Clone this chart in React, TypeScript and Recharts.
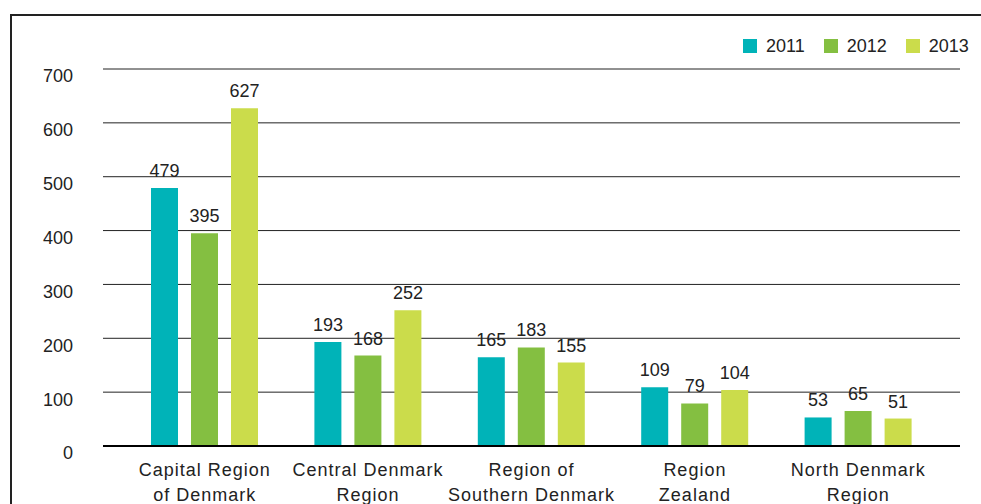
import React from "react";
import { BarChart, Bar, XAxis, YAxis, CartesianGrid, Legend, LabelList } from "recharts";

const categories = [
  "Capital Region\nof Denmark",
  "Central Denmark\nRegion",
  "Region of\nSouthern Denmark",
  "Region\nZealand",
  "North Denmark\nRegion",
];
const values2011 = [479, 193, 165, 109, 53];
const values2012 = [395, 168, 183, 79, 65];
const values2013 = [627, 252, 155, 104, 51];
const seriesNames = ["2011", "2012", "2013"];
const seriesColors = ["#00B3B8", "#84BF41", "#CBDC4B"];
const yTicks = [0, 100, 200, 300, 400, 500, 600, 700];

const data = categories.map((c, i) => ({
  name: c,
  s2011: values2011[i],
  s2012: values2012[i],
  s2013: values2013[i],
}));
const keys = ["s2011", "s2012", "s2013"];

const FONT = "'Liberation Sans', Arial, sans-serif";

const CategoryTick = (props: any) => {
  const { x, y, payload } = props;
  const lines = String(payload.value).split("\n");
  return (
    <text
      x={x}
      y={y}
      textAnchor="middle"
      fill="#222"
      fontSize={18}
      fontFamily={FONT}
      letterSpacing={1}
    >
      {lines.map((l: string, i: number) => (
        <tspan key={i} x={x} dy={i === 0 ? 22 : 25}>
          {l}
        </tspan>
      ))}
    </text>
  );
};

const LegendContent = (props: any) => {
  const { payload } = props;
  return (
    <div style={{ display: "flex", alignItems: "center", fontFamily: FONT, fontSize: 18, color: "#222" }}>
      {payload.map((p: any, i: number) => (
        <div key={i} style={{ display: "flex", alignItems: "center", marginRight: i < payload.length - 1 ? 19 : 0 }}>
          <div style={{ width: 14, height: 14, background: p.color, marginRight: 9 }} />
          <span style={{ lineHeight: "20px" }}>{p.value}</span>
        </div>
      ))}
    </div>
  );
};

export default function App() {
  return (
    <div
      style={{
        position: "absolute",
        left: 0,
        top: 0,
        width: 981,
        height: 504,
        overflow: "hidden",
        background: "#fff",
      }}
    >
      <div
        style={{
          position: "absolute",
          left: 10,
          top: 14,
          width: 1100,
          height: 600,
          borderTop: "2px solid #222",
          borderLeft: "2px solid #222",
        }}
      />
      <div style={{ position: "absolute", left: 0, top: 0 }}>
        <BarChart
          width={981}
          height={504}
          data={data}
          margin={{ top: 69, right: 21, bottom: 0, left: 0 }}
          barSize={27}
          barGap={13}
        >
          <CartesianGrid vertical={false} stroke="#222" strokeWidth={1} />
          <XAxis
            dataKey="name"
            height={58}
            padding={{ left: 20, right: 20 }}
            axisLine={{ stroke: "#000", strokeWidth: 2 }}
            tickLine={false}
            interval={0}
            tick={<CategoryTick />}
          />
          <YAxis
            width={103}
            domain={[0, 700]}
            ticks={yTicks}
            axisLine={false}
            tickLine={false}
            tickSize={0}
            tickMargin={30}
            tick={{ fill: "#222", fontSize: 18, fontFamily: FONT, dy: 7 }}
          />
          <Legend
            layout="horizontal"
            verticalAlign="middle"
            align="center"
            wrapperStyle={{ top: 36, left: 743, width: "auto" }}
            content={<LegendContent />}
          />
          {keys.map((k, i) => (
            <Bar key={k} dataKey={k} name={seriesNames[i]} fill={seriesColors[i]} isAnimationActive={false}>
              <LabelList
                dataKey={k}
                position="top"
                offset={11}
                fill="#222"
                fontSize={18}
                fontFamily={FONT}
              />
            </Bar>
          ))}
        </BarChart>
      </div>
    </div>
  );
}
